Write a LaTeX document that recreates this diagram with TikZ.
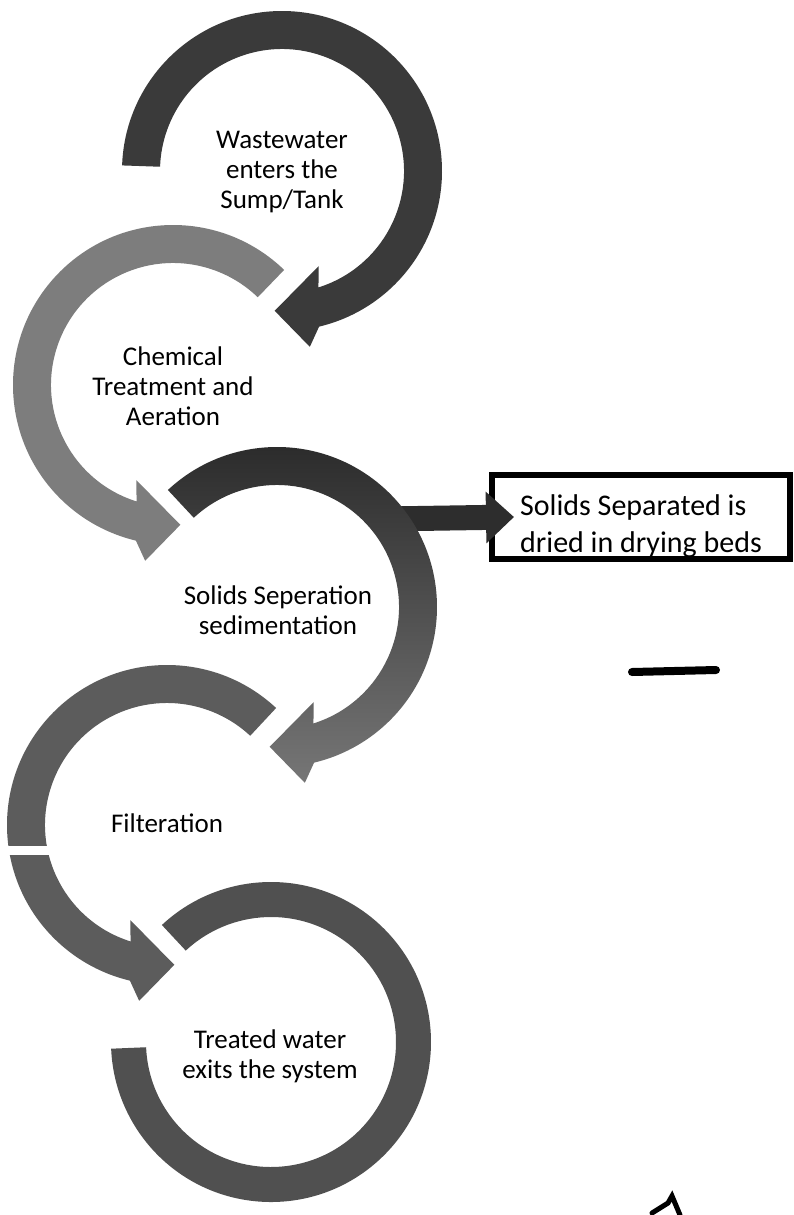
\documentclass[tikz,border=0pt]{standalone}
\usepackage{fontspec}
\setmainfont{Carlito}
\usetikzlibrary{arrows.meta}
\definecolor{ringone}{RGB}{58,58,58}
\definecolor{ringtwo}{RGB}{125,125,125}
\definecolor{ringthreetop}{RGB}{40,40,40}
\definecolor{ringthreemid}{RGB}{55,55,55}
\definecolor{ringthreebot}{RGB}{118,118,118}
\definecolor{ringfour}{RGB}{92,92,92}
\definecolor{ringfive}{RGB}{80,80,80}
\definecolor{barcol}{RGB}{45,45,45}
\begin{document}
\begin{tikzpicture}[x=1pt,y=1pt,
  ringtext/.style={font=\fontsize{27}{30}\selectfont, align=center, inner sep=0pt},
  boxnode/.style={draw=black, line width=6pt, fill=white, font=\fontsize{30}{37}\selectfont,
    align=left, inner sep=0pt, minimum width=298pt, minimum height=84pt},
  conn/.style={draw=barcol, line width=25pt, -{Triangle[length=28pt,width=50pt]}},
  scratch/.style={line width=8pt, line cap=round, black}]
\useasboundingbox[fill=white] (0,0) rectangle (793,-1215);

% ring 1 (clockwise, arrow at bottom pointing left)
\begin{scope}[shift={(282,-171)}]
\fill[ringone] (178:160) arc[start angle=178, end angle=-76.6, radius=160]
  -- (-81:178) -- (-93:140) -- (-69:102) -- (-72.6:122)
  arc[start angle=-72.6, end angle=178, radius=122] -- cycle;
\end{scope}
% ring 2 (counter-clockwise, arrow pointing right)
\begin{scope}[shift={(173,-385)}]
\fill[ringtwo] (46:160) arc[start angle=46, end angle=256.6, radius=160]
  -- (261:178) -- (273:140) -- (249:102) -- (252.6:122)
  arc[start angle=252.6, end angle=46, radius=122] -- cycle;
\end{scope}
% connector bar from ring 3 to the box
\coordinate (bstart) at (385,-519);
\node[boxnode] (box) at (641,-517) {\rule{0pt}{40pt}Solids Separated is\\dried in drying beds};
\draw[conn] (bstart) -- ([xshift=25pt]box.west);
% ring 3
\begin{scope}[shift={(277,-607)}]
\shade[top color=ringthreetop, middle color=ringthreemid, bottom color=ringthreebot]
  (133:160) arc[start angle=133, end angle=-76.6, radius=160]
  -- (-81:178) -- (-93:140) -- (-69:102) -- (-72.6:122)
  arc[start angle=-72.6, end angle=133, radius=122] -- cycle;
\end{scope}
% ring 4
\begin{scope}[shift={(167,-825)}]
\fill[ringfour] (47:160) arc[start angle=47, end angle=256.6, radius=160]
  -- (261:178) -- (273:140) -- (249:102) -- (252.6:122)
  arc[start angle=252.6, end angle=47, radius=122] -- cycle;
\end{scope}
\fill[white] (0,-846) rectangle (60,-855);
% ring 5 (no arrow head)
\begin{scope}[shift={(271,-1042)}]
\fill[ringfive] (133:160) arc[start angle=133, end angle=-177.6, radius=160]
  -- (-177.6:125) arc[start angle=-177.6, end angle=133, radius=125] -- cycle;
\end{scope}

% texts
\node[ringtext] (t1) at (282,-172) {Wastewater\\enters the\\Sump/Tank};
\node[ringtext] (t2) at (173,-386) {Chemical\\Treatment and\\Aeration};
\node[ringtext] (t3) at (278,-610) {Solids Seperation\\sedimentation};
\node[ringtext] (t4) at (167,-823) {Filteration};
\node[ringtext] (t5) at (270,-1056) {Treated water\\exits the system};

% stray pen marks
\draw[scratch] (632,-672) -- (716,-670);
\draw[scratch, line width=5pt] (652,-1213) -- (668,-1203) -- (672,-1196) -- (680,-1215);
\end{tikzpicture}
\end{document}
